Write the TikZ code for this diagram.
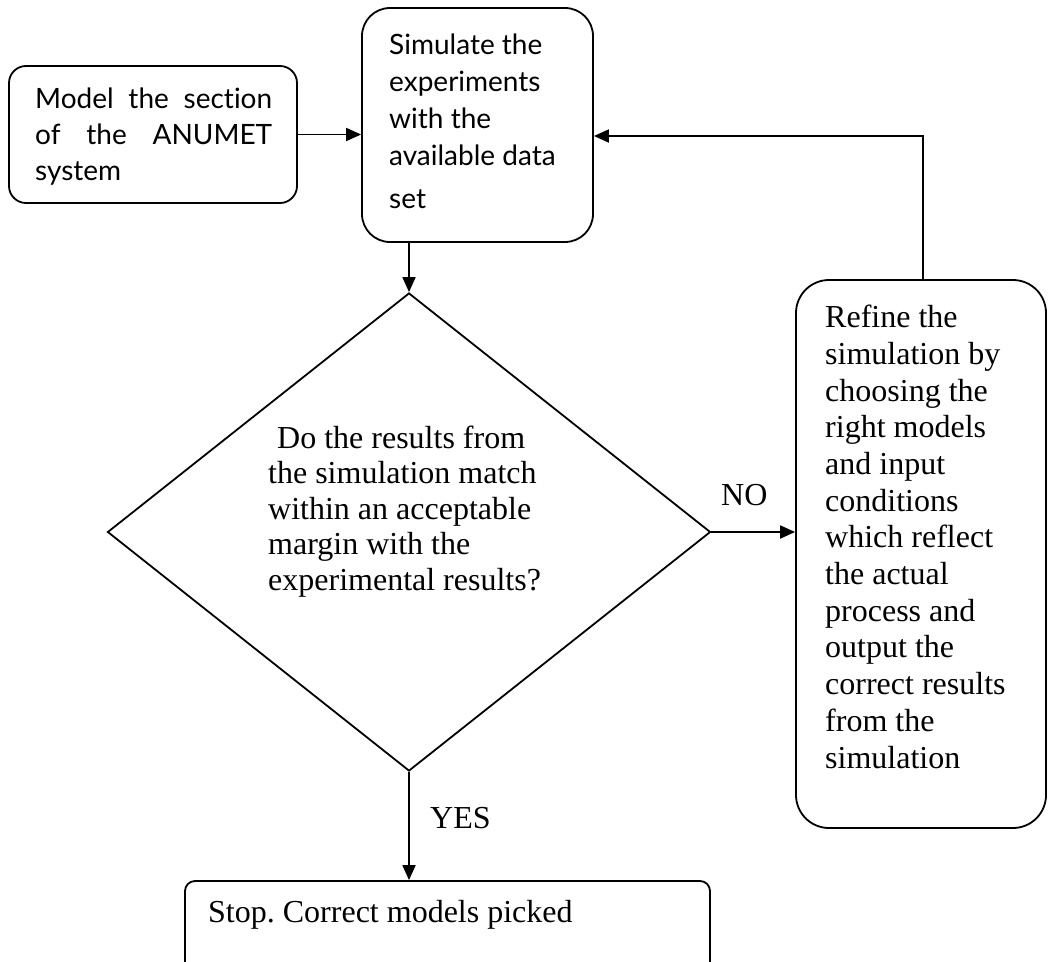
\documentclass[tikz,border=0pt]{standalone}
\usepackage{fontspec}
\setmainfont{Liberation Serif}
\newfontfamily\boxsans{Lato}[Ligatures={NoCommon}]
\usetikzlibrary{arrows.meta,shapes.geometric}
\frenchspacing
\begin{document}
\begin{tikzpicture}[x=1pt,y=-1pt,
  box/.style={draw, line width=1.8pt, rounded corners=#1, inner sep=0pt},
  arrow/.style={line width=1.8pt, -{Triangle[length=15pt,width=13pt]}},
  serift/.style={inner sep=0pt, font=\fontsize{32}{36.7}\selectfont, align=left},
  sanst/.style={inner sep=0pt, font=\boxsans\fontsize{28}{37}\selectfont, align=left},
]
\useasboundingbox (0,0) rectangle (1049,961);
\clip (0,0) rectangle (1049,961);

% boxes
\node[box=17pt, minimum width=288pt, minimum height=137pt] (b1) at (153,134.5) {};
\node[box=28pt, minimum width=231pt, minimum height=234pt] (b2) at (477.5,125) {};
\node[draw, diamond, line width=1.8pt, inner sep=0pt, minimum width=603pt, minimum height=478pt] (d) at (409,532) {};
\node[box=33pt, minimum width=250pt, minimum height=548pt] (b3) at (921,554) {};
\node[box=10pt, minimum width=525pt, minimum height=119pt] (b4) at (447.5,940.5) {};

% texts (base anchor = baseline of the last line)
\node[sanst, font=\boxsans\fontsize{28}{36}\selectfont, anchor=base west] (t1) at (35,180) {\makebox[237pt][s]{Model the section}\\ \makebox[237pt][s]{of the ANUMET}\\ system};
\node[sanst, anchor=base west] (t2) at (389,208) {Simulate the\\ experiments\\ with the\\ available data\\[6pt] set};
\node[serift, font=\fontsize{32}{35.5}\selectfont, anchor=base west] (td) at (268,590) {\hspace{9pt}Do the results from\\ the simulation match\\ within an acceptable\\ margin with the\\ experimental results?};
\node[serift, anchor=base west] (t3) at (825,768) {Refine the\\ simulation by\\ choosing the\\ right models\\ and input\\ conditions\\ which reflect\\ the actual\\ process and\\ output the\\ correct results\\ from the\\ simulation};
\node[serift, anchor=base west] (t4) at (208,922) {Stop. Correct models picked};
\node[serift, anchor=base west] (no) at (721,505) {NO};
\node[serift, anchor=base west] (yes) at (430,828) {YES};

% connectors
\draw[arrow] (b1.east) -- (b1.east -| b2.west);
\draw[arrow] (d.north |- b2.south) -- (d.north);
\draw[arrow] (d.east) -- (d.east -| b3.west);
\coordinate (fbturn) at (923,136);
\draw[arrow] (fbturn |- b3.north) -- (fbturn) -- (fbturn -| b2.east);
\draw[arrow] (d.south) -- (d.south |- b4.north);
\end{tikzpicture}
\end{document}
